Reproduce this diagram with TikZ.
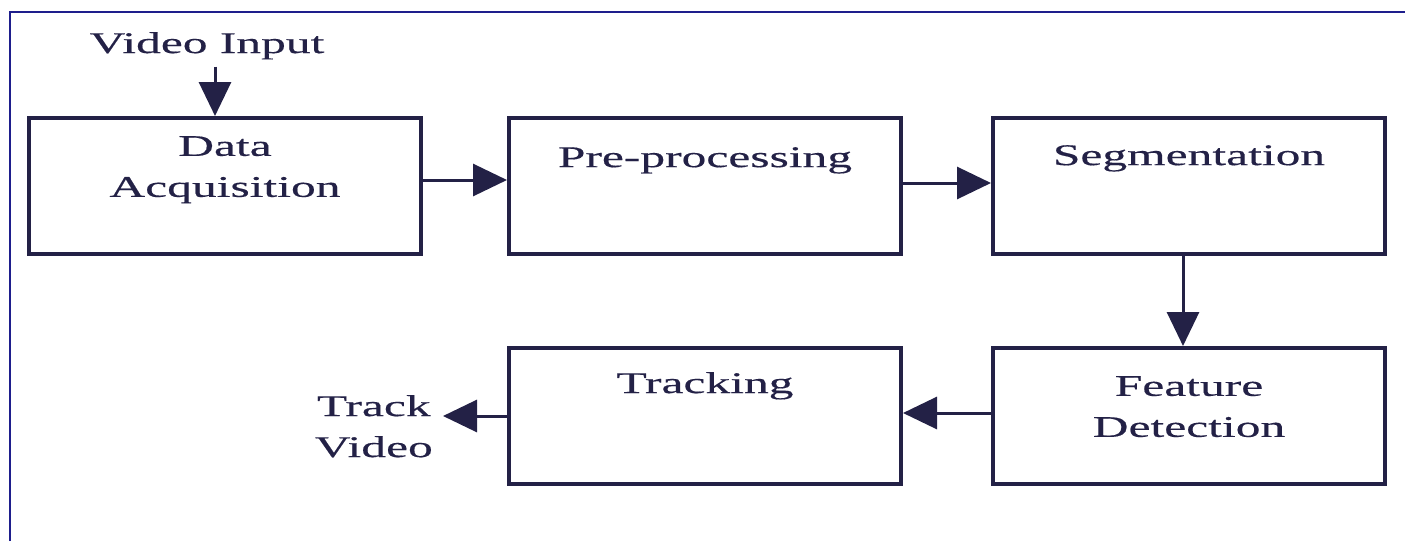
\documentclass[tikz,border=0pt]{standalone}
\usepackage{fontspec}
\setmainfont[FakeStretch=1.65,FakeBold=0.4]{Liberation Serif}
\usetikzlibrary{arrows.meta}
\definecolor{ink}{RGB}{35,33,70}
\definecolor{framecol}{RGB}{30,30,140}
\begin{document}
\begin{tikzpicture}[x=1pt,y=-1pt,
  box/.style={draw=ink, line width=4pt, minimum width=392pt, minimum height=136pt, inner sep=0pt},
  lbl/.style={text=ink, font=\fontsize{30}{41}\selectfont, align=center, inner sep=0pt},
  flow/.style={draw=ink, line width=3pt, -{Triangle[length=34pt,width=32pt]}}]
\useasboundingbox (0,0) rectangle (1405,541);
% outer frame (top and left edges)
\draw[framecol, line width=2pt] (10,541) -- (10,12) -- (1405,12);

% process boxes
\node[box] (da) at (225,186) {};
\node[box] (pp) at (705,186) {};
\node[box] (sg) at (1189,186) {};
\node[box] (fd) at (1189,416) {};
\node[box] (tr) at (705,416) {};

% box captions
\node[lbl, anchor=north] (dat) at (225,136) {Data\\Acquisition};
\node[lbl, anchor=north] (ppt) at (705,147) {Pre-processing};
\node[lbl, anchor=north] (sgt) at (1189,145) {Segmentation};
\node[lbl, anchor=north] (fdt) at (1189,376) {Feature\\Detection};
\node[lbl, anchor=north] (trt) at (705,372) {Tracking};

% input and output labels
\node[lbl, anchor=north] (vi) at (207,32) {Video Input};
\node[lbl, anchor=north east, inner xsep=10pt] (tv) at (443,395) {Track\\Video};

% connectors
\draw[flow] ([xshift=8pt]vi.south) ++(0,-7pt) coordinate (vis) -- (vis |- da.north);
\draw[flow] ([yshift=6pt]da.east) -- ([yshift=6pt]pp.west);
\draw[flow] ([yshift=3pt]pp.east) -- ([yshift=3pt]sg.west);
\draw[flow] ([xshift=-6pt]sg.south) -- ([xshift=-6pt]fd.north);
\draw[flow] ([yshift=3pt]fd.west) -- ([yshift=3pt]tr.east);
\draw[flow] (tr.west) -- (tr.west -| tv.east);
\end{tikzpicture}
\end{document}
